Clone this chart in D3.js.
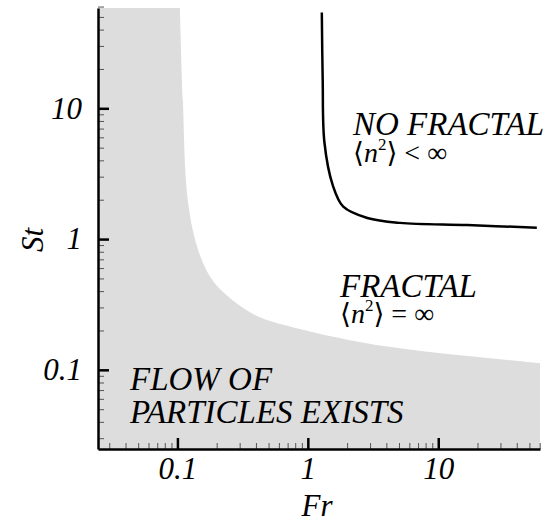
<!DOCTYPE html>
<html>
<head>
<meta charset="utf-8">
<script src="https://cdn.jsdelivr.net/npm/d3@7"></script>
<style>
  body { margin: 0; background: #fff; }
</style>
</head>
<body>
<div id="chart"></div>
<script>
var width = 552;
var height = 524;
var serif = "'Liberation Serif', 'Times New Roman', Times, Tinos, 'Nimbus Roman', 'DejaVu Serif', serif";

// boundary of the grey region (flow of particles exists)
var boundaryFr = [0.1045, 0.110, 0.120, 0.144, 0.184, 0.262, 0.43, 0.869, 2.10, 5.08, 12.3, 29.7, 60.3];
var boundarySt = [58.5, 11.7, 2.0, 0.83, 0.49, 0.344, 0.252, 0.205, 0.1685, 0.146, 0.1316, 0.1205, 0.1123];

// fractal / no fractal curve
var fractalFr = [1.28, 1.30, 1.34, 1.55, 1.87, 2.86, 5.1, 16.7, 57];
var fractalSt = [54, 16.6, 5.5, 2.6, 1.77, 1.45, 1.33, 1.28, 1.22];

var majorTicks = [0.1, 1, 10];
var majorLabels = ["0.1", "1", "10"];
var minorX = [0.03, 0.04, 0.05, 0.06, 0.07, 0.08, 0.09, 0.2, 0.3, 0.4, 0.5, 0.6, 0.7, 0.8, 0.9,
              2, 3, 4, 5, 6, 7, 8, 9, 20, 30, 40, 50, 60];
var minorY = minorX.concat([]);

var xScale = d3.scaleLog()
    .domain([0.0246, 60.3])
    .range([98, 540]);

var yScale = d3.scaleLog()
    .domain([0.0248, 58.5])
    .range([449, 8]);

var svg = d3.select("#chart").append("svg")
    .attr("width", width)
    .attr("height", height)
    .attr("font-family", serif);

var xMin = xScale.domain()[0], xMax = xScale.domain()[1];
var yMin = yScale.domain()[0], yMax = yScale.domain()[1];

var curveLine = d3.line()
    .x(function(d) { return xScale(d[0]); })
    .y(function(d) { return yScale(d[1]); })
    .curve(d3.curveCatmullRom.alpha(0.5));

// grey region
var boundaryPts = boundaryFr.map(function(f, i) { return [f, boundarySt[i]]; });
svg.append("path")
    .attr("d", curveLine(boundaryPts) +
        "L" + xScale(xMax) + "," + yScale(yMin) +
        "L" + xScale(xMin) + "," + yScale(yMin) +
        "L" + xScale(xMin) + "," + yScale(yMax) + "Z")
    .style("fill", "#dddddd")
    .style("stroke", "none");

// fractal curve
var fractalPts = fractalFr.map(function(f, i) { return [f, fractalSt[i]]; });
svg.append("path")
    .attr("d", curveLine(fractalPts))
    .style("fill", "none")
    .style("stroke", "#000")
    .style("stroke-width", 2.5);

// axes
var fmt = function(d) { return majorLabels[majorTicks.indexOf(d)]; };

var xMinor = svg.append("g")
    .attr("transform", "translate(0," + yScale(yMin) + ")")
    .call(d3.axisBottom(xScale).tickValues(minorX).tickSize(-6).tickFormat(""));
xMinor.select(".domain").remove();
xMinor.selectAll("line").style("stroke", "#555").style("stroke-width", 1);

var yMinor = svg.append("g")
    .attr("transform", "translate(" + xScale(xMin) + ",0)")
    .call(d3.axisLeft(yScale).tickValues(minorY).tickSize(-6).tickFormat(""));
yMinor.select(".domain").remove();
yMinor.selectAll("line").style("stroke", "#555").style("stroke-width", 1);

var xAxis = svg.append("g")
    .attr("transform", "translate(0," + yScale(yMin) + ")")
    .call(d3.axisBottom(xScale).tickValues(majorTicks).tickSize(-11).tickSizeOuter(0)
        .tickPadding(8).tickFormat(fmt));

var yAxis = svg.append("g")
    .attr("transform", "translate(" + xScale(xMin) + ",0)")
    .call(d3.axisLeft(yScale).tickValues(majorTicks).tickSize(-11).tickSizeOuter(0)
        .tickPadding(16).tickFormat(fmt));

[xAxis, yAxis].forEach(function(g) {
    g.attr("font-family", serif);
    g.select(".domain").style("stroke", "#000").style("stroke-width", 2.5);
    g.selectAll(".tick line").style("stroke", "#000").style("stroke-width", 2.5);
    g.selectAll(".tick text")
        .style("font-family", serif)
        .style("font-style", "italic")
        .style("font-size", "31px")
        .style("fill", "#000");
});

// axis titles
svg.append("text")
    .attr("x", 317).attr("y", 516)
    .attr("text-anchor", "middle")
    .style("font-family", serif)
    .style("font-style", "italic").style("font-size", "31px")
    .text("Fr");

svg.append("text")
    .attr("transform", "translate(43,240) rotate(-90)")
    .attr("text-anchor", "middle")
    .style("font-family", serif)
    .style("font-style", "italic").style("font-size", "31px")
    .text("St");

// region labels
function label(x, y, txt) {
    svg.append("text")
        .attr("x", x).attr("y", y)
        .style("font-family", serif)
        .style("font-style", "italic").style("font-size", "33px")
        .text(txt);
}
function mathLabel(x, y, rel) {
    var t = svg.append("text")
        .attr("x", x).attr("y", y)
        .style("font-family", serif)
        .style("font-size", "28px");
    t.append("tspan").text("\u27E8");
    t.append("tspan").style("font-style", "italic").text("n");
    t.append("tspan").attr("dy", -12).style("font-size", "17px").text("2");
    t.append("tspan").attr("dy", 12).text("\u27E9 " + rel + " \u221E");
}

label(353, 135, "NO FRACTAL");
mathLabel(353, 162, "<");
label(340, 297, "FRACTAL");
mathLabel(340, 323, "=");
label(130, 390, "FLOW OF");
label(130, 423, "PARTICLES EXISTS");
</script>
</body>
</html>
